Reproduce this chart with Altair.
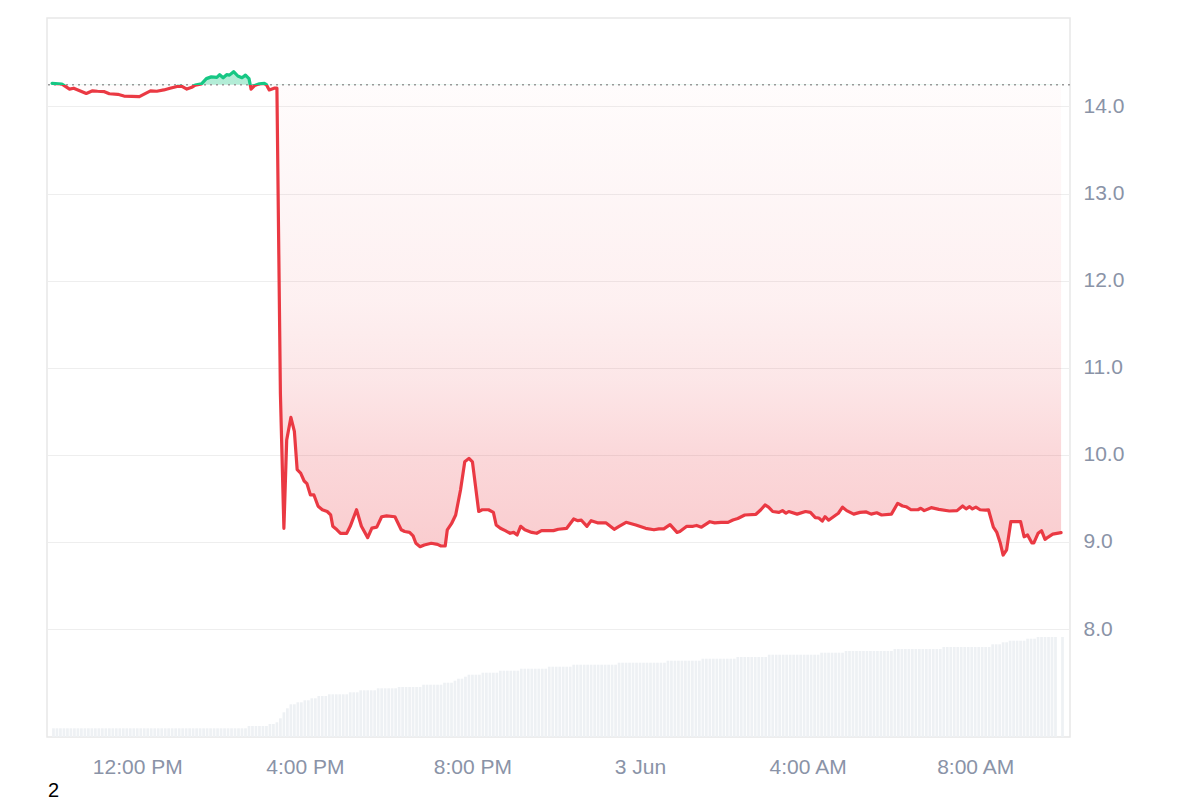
import altair as alt
import pandas as pd

BASE = 14.25
GREEN = "#16c784"
RED = "#ea3943"

price_times = [
    "09:58", "10:12", "10:16", "10:23", "10:29", "10:35", "10:47", "10:56", "11:03", "11:13",
    "11:20", "11:32", "11:41", "12:03", "12:12", "12:19", "12:28", "12:38", "12:47", "12:57",
    "13:04", "13:11", "13:18", "13:23", "13:32", "13:39", "13:46", "13:54", "13:58", "14:03",
    "14:08", "14:12", "14:18", "14:24", "14:30", "14:35", "14:40", "14:43", "14:48", "14:55",
    "15:02", "15:05", "15:09", "15:16", "15:20", "15:25", "15:30", "15:34", "15:40", "15:45",
    "15:49", "15:54", "15:59", "16:03", "16:08", "16:13", "16:19", "16:25", "16:32", "16:37",
    "16:40", "16:46", "16:51", "17:00", "17:05", "17:14", "17:21", "17:30", "17:36", "17:43",
    "17:50", "17:57", "18:09", "18:18", "18:23", "18:30", "18:35", "18:39", "18:45", "18:51",
    "19:01", "19:10", "19:15", "19:21", "19:24", "19:30", "19:36", "19:43", "19:49", "19:55",
    "20:00", "20:09", "20:14", "20:23", "20:30", "20:34", "20:40", "20:47", "20:54", "20:59",
    "21:04", "21:09", "21:15", "21:25", "21:32", "21:39", "21:56", "22:03", "22:15", "22:25",
    "22:31", "22:36", "22:44", "22:50", "22:59", "23:11", "23:23", "23:30", "23:40", "23:54",
    "00:08", "00:20", "00:27", "00:34", "00:43", "00:53", "00:57", "01:07", "01:16", "01:21",
    "01:28", "01:40", "01:47", "01:56", "02:06", "02:13", "02:20", "02:30", "02:46", "02:53",
    "02:59", "03:04", "03:10", "03:19", "03:24", "03:29", "03:33", "03:45", "03:57", "04:04",
    "04:11", "04:16", "04:21", "04:25", "04:30", "04:37", "04:44", "04:50", "04:56", "05:06",
    "05:15", "05:24", "05:31", "05:39", "05:46", "06:00", "06:09", "06:16", "06:21", "06:28",
    "06:38", "06:42", "06:47", "06:57", "07:08", "07:23", "07:34", "07:42", "07:47", "07:52",
    "07:56", "08:01", "08:07", "08:15", "08:19", "08:26", "08:31", "08:36", "08:40", "08:45",
    "08:51", "08:58", "09:05", "09:10", "09:15", "09:21", "09:24", "09:30", "09:35", "09:40",
    "09:44", "09:51", "10:03",
]
price_values = [
    14.265, 14.258, 14.236, 14.20, 14.21, 14.19, 14.15, 14.18, 14.175, 14.17,
    14.146, 14.14, 14.12, 14.113, 14.15, 14.18, 14.175, 14.19, 14.21, 14.23,
    14.23, 14.20, 14.22, 14.245, 14.26, 14.32, 14.34, 14.335, 14.365, 14.33,
    14.365, 14.36, 14.40, 14.35, 14.33, 14.36, 14.32, 14.20, 14.24, 14.26,
    14.265, 14.25, 14.19, 14.21, 14.21, 10.70, 9.157, 10.17, 10.43, 10.27,
    9.83, 9.79, 9.70, 9.67, 9.54, 9.54, 9.41, 9.37, 9.35, 9.31,
    9.18, 9.14, 9.10, 9.10, 9.18, 9.37, 9.18, 9.05, 9.16, 9.17,
    9.29, 9.30, 9.29, 9.14, 9.12, 9.11, 9.07, 8.985, 8.946, 8.966,
    8.985, 8.973, 8.954, 8.954, 9.14, 9.21, 9.31, 9.60, 9.92, 9.96,
    9.92, 9.35, 9.37, 9.37, 9.34, 9.195, 9.157, 9.13, 9.10, 9.11,
    9.08, 9.18, 9.14, 9.11, 9.10, 9.13, 9.13, 9.146, 9.157, 9.264,
    9.245, 9.25, 9.18, 9.245, 9.22, 9.22, 9.146, 9.18, 9.226, 9.195,
    9.157, 9.14, 9.15, 9.15, 9.20, 9.11, 9.12, 9.18, 9.18, 9.19,
    9.17, 9.233, 9.22, 9.225, 9.225, 9.253, 9.27, 9.31, 9.318, 9.37,
    9.425, 9.40, 9.35, 9.34, 9.36, 9.33, 9.35, 9.32, 9.35, 9.34,
    9.28, 9.275, 9.24, 9.29, 9.25, 9.29, 9.33, 9.40, 9.36, 9.32,
    9.34, 9.345, 9.32, 9.335, 9.31, 9.32, 9.444, 9.413, 9.405, 9.37,
    9.37, 9.387, 9.36, 9.394, 9.375, 9.356, 9.36, 9.413, 9.38, 9.405,
    9.38, 9.40, 9.37, 9.365, 9.37, 9.17, 9.11, 8.985, 8.85, 8.91,
    9.233, 9.233, 9.233, 9.06, 9.08, 8.99, 8.99, 9.10, 9.13, 9.03,
    9.054, 9.09, 9.107,
]

# volume: step levels (start time of each level, bar height)
vol_level_starts = [
    "09:58", "14:37", "15:07", "15:18", "15:22", "15:27", "15:32", "15:38", "15:48", "15:58",
    "16:08", "16:18", "16:32", "17:04", "17:19", "17:43", "18:15", "18:48", "19:18", "19:33",
    "19:38", "19:48", "19:53", "20:13", "20:38", "21:07", "21:48", "22:23", "23:28", "00:38",
    "01:27", "02:18", "03:04", "04:18", "04:54", "06:05", "07:15", "08:24", "08:38", "08:50",
    "09:14", "09:28",
]
vol_level_values = [
    8.7, 11, 13, 14.7, 18.7, 24.7, 28.7, 32.7, 34.7, 36.7,
    38.7, 41, 42.7, 44.7, 46.7, 48.7, 50, 52.3, 54.3, 56.3,
    58.3, 60.3, 62.3, 64.3, 66.3, 68.3, 70.3, 72.3, 74.3, 76.3,
    78.3, 80, 82.3, 84.3, 86, 88, 90, 92.7, 94.7, 96.3,
    98.3, 100,
]
vol_first_bar = "2024-06-02T10:00:00"
vol_last_bar = "2024-06-03T10:05:00"
vol_missing_bar = "2024-06-03T10:00:00"

y_ticks = [8, 9, 10, 11, 12, 13, 14]
x_ticks_hours = [(2, 12), (2, 16), (2, 20), (3, 0), (3, 4), (3, 8)]


def to_iso(times, start_day=2):
    out, day, prev = [], start_day, None
    for t in times:
        if prev is not None and t < prev:
            day += 1
        out.append(f"2024-06-{day:02d}T{t}:00")
        prev = t
    return out


price_df = pd.DataFrame({"time": to_iso(price_times), "price": price_values})
price_df["base"] = BASE

level_starts = pd.to_datetime(to_iso(vol_level_starts))
bar_times = pd.date_range(vol_first_bar, vol_last_bar, freq="5min")
bar_times = bar_times[bar_times != pd.Timestamp(vol_missing_bar)]
vols = []
for bt in bar_times:
    idx = max(i for i, s in enumerate(level_starts) if s <= bt)
    vols.append(vol_level_values[idx])
vol_df = pd.DataFrame({"time": bar_times.strftime("%Y-%m-%dT%H:%M:%S"), "vol": vols})

pmax, pmin = max(price_values), min(price_values)
f = (pmax - BASE) / (pmax - pmin)

line_grad = alt.LinearGradient(
    gradient="linear", x1=0, x2=0, y1=0, y2=1,
    stops=[
        alt.GradientStop(color=GREEN, offset=0),
        alt.GradientStop(color=GREEN, offset=f),
        alt.GradientStop(color=RED, offset=f),
        alt.GradientStop(color=RED, offset=1),
    ],
)
area_grad = alt.LinearGradient(
    gradient="linear", x1=0, x2=0, y1=0, y2=1,
    stops=[
        alt.GradientStop(color="rgba(22,199,132,0.33)", offset=0),
        alt.GradientStop(color="rgba(22,199,132,0.33)", offset=f),
        alt.GradientStop(color="rgba(234,57,67,0.015)", offset=f),
        alt.GradientStop(color="rgba(234,57,67,0.075)", offset=0.47),
        alt.GradientStop(color="rgba(234,57,67,0.125)", offset=0.64),
        alt.GradientStop(color="rgba(234,57,67,0.20)", offset=0.80),
        alt.GradientStop(color="rgba(234,57,67,0.26)", offset=1),
    ],
)

LABEL_COLOR = "#8a93a7"
FONT = "Liberation Sans"

x_domain = [
    alt.DateTime(year=2024, month=6, date=2, hours=9, minutes=57, seconds=54),
    alt.DateTime(year=2024, month=6, date=3, hours=10, minutes=8, seconds=36),
]
x_values = [alt.DateTime(year=2024, month=6, date=d, hours=h) for d, h in x_ticks_hours]
x_axis = alt.Axis(
    values=x_values,
    labelExpr="hours(datum.value) == 0 ? timeFormat(datum.value, '%-d %b') : timeFormat(datum.value, '%-I:%M %p')",
    title=None, grid=False, domain=False, ticks=False,
    labelFontSize=21, labelColor=LABEL_COLOR, labelFont=FONT, labelPadding=19,
    labelOverlap=False, labelFlush=False,
)
x_enc = alt.X("time:T", scale=alt.Scale(domain=x_domain), axis=x_axis)

y_scale = alt.Scale(domain=[6.761, 15.016], zero=False, nice=False)
y_axis = alt.Axis(
    orient="right", values=y_ticks, format=".1f", title=None,
    grid=True, gridColor="#eeeeee", gridWidth=1.2, domain=False, ticks=False,
    labelFontSize=21, labelColor=LABEL_COLOR, labelFont=FONT, labelPadding=13,
)

vol = alt.Chart(vol_df).mark_bar(size=2.7, color="#eef1f4").encode(
    x=x_enc,
    y=alt.Y("vol:Q", scale=alt.Scale(domain=[0, 719], nice=False), axis=None),
)

area = alt.Chart(price_df).mark_area(fill=area_grad, interpolate="linear").encode(
    x=x_enc,
    y=alt.Y("price:Q", scale=y_scale, axis=y_axis),
    y2="base:Q",
)

rule = alt.Chart(alt.Data(values=[{"base": BASE}])).mark_rule(
    color="#9a9a9a", strokeDash=[2, 4], strokeWidth=1.6
).encode(y=alt.Y("base:Q", scale=y_scale, axis=y_axis))

line = alt.Chart(price_df).mark_line(
    stroke=line_grad, strokeWidth=3.2, interpolate="linear", strokeJoin="round", strokeCap="round"
).encode(
    x=x_enc,
    y=alt.Y("price:Q", scale=y_scale, axis=y_axis),
)

price_layer = alt.layer(area, rule, line)

note = alt.Chart(alt.Data(values=[{}])).mark_text(
    text="2", fontSize=20, color="#000000", font=FONT, align="left", baseline="alphabetic"
).encode(x=alt.value(1), y=alt.value(779))

chart = (
    alt.layer(vol, price_layer, note)
    .resolve_scale(y="independent")
    .properties(
        width=1023, height=719,
        autosize=alt.AutoSizeParams(type="none"),
        padding={"left": 39, "top": 10, "right": 122, "bottom": 63},
        background="white",
    )
    .configure_view(stroke="#e8e8e8", strokeWidth=1.5)
)

chart.save("out.html", embed_options={"renderer": "svg", "actions": False})
